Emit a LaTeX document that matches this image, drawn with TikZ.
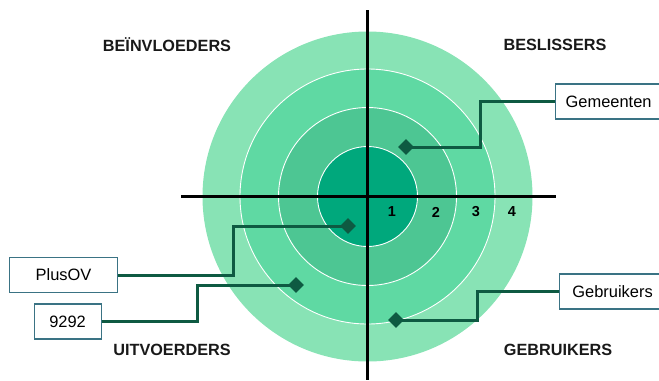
\documentclass[tikz,border=0pt]{standalone}
\usepackage{fontspec}
\setmainfont{Liberation Sans}
\usetikzlibrary{shapes.geometric}
\definecolor{ringA}{HTML}{88E3B5}
\definecolor{ringB}{HTML}{5FD9A3}
\definecolor{ringC}{HTML}{4DC693}
\definecolor{ringD}{HTML}{00A87C}
\definecolor{conn}{HTML}{0E5A42}
\definecolor{boxline}{HTML}{3A7384}
\tikzset{
  ring/.style={draw=white, line width=0.9bp},
  axis/.style={line width=2.8bp, black},
  quad/.style={font=\fontsize{16.3}{19}\selectfont\bfseries, text=black!90},
  num/.style={font=\fontsize{14.5}{16}\selectfont\bfseries},
  lbox/.style={draw=boxline, line width=1.2bp, fill=white, font=\fontsize{16.5}{18}\selectfont, inner sep=0pt, minimum height=35bp},
  pin/.style={diamond, fill=conn, inner sep=0pt, minimum width=16bp, minimum height=16bp},
  link/.style={conn, line width=3bp}
}
\begin{document}
\begin{tikzpicture}[x=1bp,y=-1bp]
\useasboundingbox (0,0) rectangle (659,380);
\coordinate (c) at (367.5,196.5);
\fill[ringA] (c) circle (165);
\draw[ring, fill=ringB] (c) circle (127.5);
\draw[ring, fill=ringC] (c) circle (89);
\draw[ring, fill=ringD] (c) circle (50);
\coordinate (hl) at (181,196.5);
\coordinate (hr) at (556,196.5);
\coordinate (vt) at (367.5,10);
\coordinate (vb) at (367.5,380);
\draw[axis] (hl) -- (hr);
\draw[axis] (vt) -- (vb);
\node[num] (n1) at (392,212) {1};
\node[num] (n2) at (436,212) {2};
\node[num] (n3) at (476,212) {3};
\node[num] (n4) at (512,212) {4};
\node[quad] (q1) at (167,44.5) {BEÏNVLOEDERS};
\node[quad] (q2) at (555,45) {BESLISSERS};
\node[quad] (q3) at (172,349.5) {UITVOERDERS};
\node[quad] (q4) at (558,349.5) {GEBRUIKERS};
% boxes
\node[lbox, minimum width=106bp, anchor=west] (gem) at (555,101.5) {Gemeenten};
\node[lbox, minimum width=106bp, anchor=west] (geb) at (559,291.5) {Gebruikers};
\node[lbox, minimum width=108bp, anchor=west] (plus) at (9,275) {PlusOV};
\node[lbox, minimum width=67bp, anchor=west] (n9292) at (33.5,321.5) {9292};
% pins
\node[pin] (p1) at (406,147) {};
\node[pin] (p2) at (396,320) {};
\node[pin] (p3) at (348,226) {};
\node[pin] (p4) at (296,285) {};
\draw[link] (gem.west) -| (480,147) -- (p1.center);
\draw[link] (geb.west) -| (477,320) -- (p2.center);
\draw[link] (plus.east) -| (233,226) -- (p3.center);
\draw[link] (n9292.east) -| (197,285) -- (p4.center);
\end{tikzpicture}
\end{document}
